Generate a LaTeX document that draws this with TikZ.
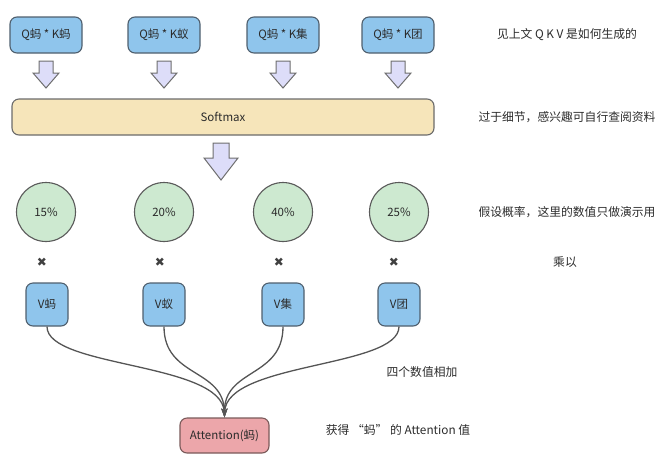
\documentclass[tikz,border=0pt]{standalone}
\usepackage{fontspec}
\setmainfont{Noto Sans CJK SC}
\newfontfamily\djv{DejaVu Sans}
\usetikzlibrary{arrows.meta}
\definecolor{qblue}{HTML}{8FC5EC}
\definecolor{qborder}{HTML}{4F5F6E}
\definecolor{smfill}{HTML}{F6E5BA}
\definecolor{smborder}{HTML}{6B6B6B}
\definecolor{gfill}{HTML}{CDE9D0}
\definecolor{gborder}{HTML}{5A5A5A}
\definecolor{rfill}{HTML}{ECA6AA}
\definecolor{rborder}{HTML}{7A5A5A}
\definecolor{afill}{HTML}{DDDDF9}
\definecolor{aborder}{HTML}{6E6E6E}
\definecolor{txt}{HTML}{2B2B2B}
\definecolor{lineg}{HTML}{555555}
\newcommand{\blockarrow}[6]{% cx, top, shoulder, tip, shaft half, head half
  \draw[arrowshape] (#1-#5,#2) -- (#1+#5,#2) -- (#1+#5,#3) -- (#1+#6,#3) -- (#1,#4)
    -- (#1-#6,#3) -- (#1-#5,#3) -- cycle;}
\begin{document}
\begin{tikzpicture}[x=1pt,y=-1pt,
  every node/.style={text=txt, font=\fontsize{11.5}{13}\selectfont},
  qbox/.style={draw=qborder, fill=qblue, line width=1.1pt, rounded corners=7pt,
    minimum width=72pt, minimum height=36pt, inner sep=0pt},
  vbox/.style={draw=qborder, fill=qblue, line width=1.1pt, rounded corners=7pt,
    minimum width=42pt, minimum height=43pt, inner sep=0pt},
  smbox/.style={draw=smborder, fill=smfill, line width=1.1pt, rounded corners=7pt,
    minimum width=422pt, minimum height=36pt, inner sep=0pt},
  pcircle/.style={circle, draw=gborder, fill=gfill, line width=1.1pt,
    minimum size=59pt, inner sep=0pt},
  attbox/.style={draw=rborder, fill=rfill, line width=1.1pt, rounded corners=7pt,
    minimum width=89pt, minimum height=35pt, inner sep=0pt},
  arrowshape/.style={draw=aborder, fill=afill, line width=1pt, line join=miter},
  times/.style={font=\djv\fontsize{12}{13}\selectfont, text=txt!90!white},
  note/.style={font=\fontsize{11.8}{13}\selectfont},
  sumline/.style={draw=lineg, line width=1.3pt, -{Stealth[length=9pt,width=6pt]}}
]
\useasboundingbox (0,0) rectangle (661,459);

% top boxes
\node[qbox] (q1) at (46,35) {Q蚂 * K蚂};
\node[qbox] (q2) at (164,35) {Q蚂 * K蚁};
\node[qbox] (q3) at (283,35) {Q蚂 * K集};
\node[qbox] (q4) at (398,35) {Q蚂 * K团};

% small arrows
\blockarrow{46}{61}{73}{88}{7}{13}
\blockarrow{164}{61}{73}{88}{7}{13}
\blockarrow{283}{61}{73}{88}{7}{13}
\blockarrow{398}{61}{73}{88}{7}{13}

% softmax
\node[smbox] (sm) at (223,117) {Softmax};

% big arrow
\blockarrow{221}{143}{158}{180}{8}{17}

% circles
\node[pcircle] (c1) at (46,212) {15\%};
\node[pcircle] (c2) at (164,212) {20\%};
\node[pcircle] (c3) at (283,212) {40\%};
\node[pcircle] (c4) at (399,212) {25\%};

% times
\node[times] (x1) at (42,262) {✖};
\node[times] (x2) at (160,262) {✖};
\node[times] (x3) at (279,262) {✖};
\node[times] (x4) at (394,262) {✖};

% V boxes
\node[vbox] (v1) at (47,304.5) {V蚂};
\node[vbox] (v2) at (164,304.5) {V蚁};
\node[vbox] (v3) at (283,304.5) {V集};
\node[vbox] (v4) at (399,304.5) {V团};

% attention
\node[attbox] (att) at (224.5,435.5) {Attention(蚂)};

% summing curves
\draw[sumline] (v1.south) .. controls (47,368) and (222,362) .. (att.north);
\draw[sumline] (v2.south) .. controls (164,378) and (224,368) .. (att.north);
\draw[sumline] (v3.south) .. controls (283,378) and (224,368) .. (att.north);
\draw[sumline] (v4.south) .. controls (399,368) and (226,362) .. (att.north);

% notes
\node[note] (n1) at (567,35) {见上文 Q K V 是如何生成的};
\node[note] (n2) at (567,117) {过于细节，感兴趣可自行查阅资料};
\node[note] (n3) at (567,212) {假设概率，这里的数值只做演示用};
\node[note] (n4) at (565,262) {乘以};
\node[note] (n5) at (422,372) {四个数值相加};
\node[note] (n6) at (398,430) {获得 “蚂” 的 Attention 值};
\end{tikzpicture}
\end{document}
